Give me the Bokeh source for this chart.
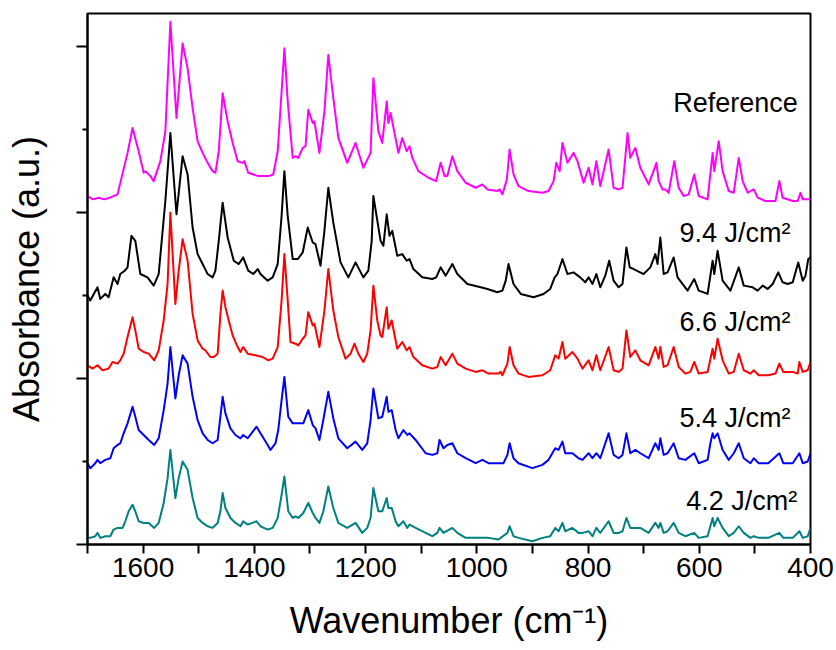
from bokeh.plotting import figure
from bokeh.models import Range1d, FixedTicker, Label
from bokeh.embed import file_html
from bokeh.resources import INLINE

# ---------------- data ----------------
ref_wn = [1700, 1690, 1680, 1670, 1660, 1646, 1628, 1619, 1608, 1599, 1596, 1587, 1581, 1569, 1560,
          1551, 1540, 1529, 1520, 1511, 1502, 1493, 1484, 1475, 1470, 1464, 1457, 1448, 1439, 1430,
          1421, 1418, 1411, 1393, 1375, 1366, 1358, 1351, 1346, 1340, 1331, 1326, 1321, 1313, 1308,
          1303, 1295, 1292, 1283, 1274, 1267, 1258, 1249, 1233, 1218, 1204, 1191, 1186, 1177, 1170,
          1162, 1159, 1155, 1141, 1134, 1126, 1121, 1116, 1105, 1087, 1073, 1065, 1058, 1053, 1044,
          1035, 1020, 1002, 990, 981, 963, 959, 954, 946, 941, 934, 925, 907, 882, 871,
          862, 857, 851, 846, 837, 826, 819, 808, 799, 792, 785, 778, 763, 754, 745,
          738, 729, 724, 715, 706, 691, 677, 673, 666, 661, 655, 645, 637, 628, 619,
          609, 601, 585, 576, 573, 565, 558, 547, 538, 529, 522, 513, 502, 495, 481,
          463, 456, 450, 432, 423, 418, 414, 400]
ref_abs = [2.10, 2.08, 2.09, 2.08, 2.09, 2.11, 2.36, 2.51, 2.37, 2.24, 2.25, 2.22, 2.19, 2.31, 2.49,
           3.15, 2.57, 3.02, 2.87, 2.63, 2.43, 2.36, 2.30, 2.25, 2.24, 2.37, 2.72, 2.55, 2.42, 2.31,
           2.30, 2.31, 2.24, 2.22, 2.22, 2.23, 2.37, 2.73, 2.99, 2.67, 2.33, 2.34, 2.33, 2.39, 2.40,
           2.62, 2.54, 2.55, 2.36, 2.61, 2.95, 2.69, 2.45, 2.30, 2.42, 2.27, 2.36, 2.81, 2.49, 2.42,
           2.67, 2.54, 2.60, 2.36, 2.45, 2.37, 2.40, 2.33, 2.25, 2.21, 2.19, 2.30, 2.22, 2.22, 2.34,
           2.25, 2.18, 2.15, 2.17, 2.14, 2.13, 2.14, 2.11, 2.20, 2.38, 2.23, 2.16, 2.13, 2.12, 2.13,
           2.19, 2.30, 2.25, 2.42, 2.30, 2.36, 2.31, 2.18, 2.27, 2.17, 2.31, 2.16, 2.38, 2.15, 2.14,
           2.15, 2.48, 2.33, 2.39, 2.27, 2.17, 2.30, 2.19, 2.14, 2.14, 2.12, 2.31, 2.15, 2.10, 2.11,
           2.23, 2.10, 2.08, 2.36, 2.25, 2.43, 2.25, 2.13, 2.12, 2.33, 2.19, 2.12, 2.14, 2.09, 2.07,
           2.07, 2.19, 2.09, 2.07, 2.07, 2.12, 2.08, 2.08]

f94_wn = [1700, 1695, 1682, 1677, 1668, 1662, 1653, 1646, 1641, 1633, 1628, 1621, 1614, 1605, 1592,
          1581, 1572, 1560, 1551, 1540, 1529, 1520, 1511, 1502, 1493, 1490, 1484, 1475, 1470, 1464,
          1457, 1448, 1437, 1428, 1420, 1411, 1402, 1394, 1389, 1376, 1367, 1358, 1351, 1346, 1340,
          1331, 1322, 1313, 1304, 1295, 1290, 1281, 1274, 1267, 1258, 1245, 1231, 1218, 1204, 1195,
          1189, 1186, 1173, 1168, 1162, 1157, 1152, 1143, 1134, 1126, 1121, 1114, 1098, 1080, 1073,
          1065, 1056, 1044, 1035, 1017, 993, 981, 963, 954, 948, 943, 934, 921, 898, 880,
          868, 860, 855, 846, 837, 826, 814, 805, 799, 792, 785, 778, 769, 762, 754,
          745, 738, 731, 725, 718, 700, 688, 679, 675, 670, 664, 657, 646, 639, 621,
          609, 601, 585, 576, 573, 567, 558, 544, 529, 520, 504, 495, 486, 477, 468,
          458, 450, 441, 432, 422, 414, 409, 404, 400]
f94_abs = [1.50, 1.47, 1.55, 1.48, 1.51, 1.49, 1.61, 1.57, 1.63, 1.65, 1.67, 1.86, 1.83, 1.63, 1.61,
           1.56, 1.63, 2.07, 2.48, 1.99, 2.34, 2.23, 1.91, 1.75, 1.69, 1.67, 1.63, 1.61, 1.65, 1.83,
           2.06, 1.85, 1.71, 1.69, 1.73, 1.65, 1.63, 1.66, 1.63, 1.59, 1.61, 1.69, 1.98, 2.25, 1.98,
           1.72, 1.72, 1.76, 1.91, 1.82, 1.81, 1.68, 1.89, 2.15, 1.94, 1.70, 1.61, 1.70, 1.61, 1.65,
           1.83, 2.10, 1.83, 1.80, 1.99, 1.86, 1.89, 1.74, 1.75, 1.71, 1.72, 1.66, 1.61, 1.60, 1.61,
           1.67, 1.62, 1.69, 1.63, 1.57, 1.55, 1.54, 1.52, 1.53, 1.59, 1.69, 1.57, 1.51, 1.49, 1.51,
           1.54, 1.61, 1.63, 1.72, 1.63, 1.64, 1.61, 1.58, 1.61, 1.57, 1.63, 1.55, 1.62, 1.71, 1.59,
           1.55, 1.57, 1.79, 1.67, 1.66, 1.63, 1.67, 1.75, 1.69, 1.85, 1.63, 1.64, 1.73, 1.61, 1.53,
           1.60, 1.53, 1.51, 1.71, 1.63, 1.77, 1.59, 1.53, 1.67, 1.56, 1.55, 1.53, 1.56, 1.54, 1.57,
           1.64, 1.58, 1.57, 1.58, 1.70, 1.59, 1.62, 1.72, 1.73]

f66_wn = [1700, 1691, 1682, 1673, 1662, 1655, 1646, 1641, 1635, 1628, 1619, 1614, 1608, 1599, 1590,
          1580, 1572, 1563, 1556, 1551, 1542, 1536, 1529, 1520, 1511, 1502, 1493, 1488, 1479, 1473,
          1466, 1461, 1457, 1452, 1446, 1439, 1430, 1425, 1420, 1412, 1398, 1385, 1375, 1367, 1358,
          1351, 1346, 1340, 1335, 1326, 1321, 1313, 1308, 1303, 1295, 1292, 1283, 1274, 1267, 1258,
          1249, 1236, 1227, 1220, 1213, 1204, 1197, 1191, 1186, 1179, 1173, 1170, 1162, 1159, 1153,
          1143, 1134, 1126, 1121, 1114, 1098, 1080, 1071, 1065, 1056, 1044, 1035, 1020, 1002, 990,
          979, 961, 957, 954, 945, 941, 934, 925, 907, 882, 868, 859, 853, 846, 841,
          828, 819, 810, 799, 792, 785, 778, 763, 754, 745, 738, 731, 724, 715, 706,
          691, 679, 673, 670, 664, 657, 646, 637, 625, 616, 609, 601, 585, 576, 573,
          567, 558, 547, 538, 529, 520, 508, 502, 493, 476, 463, 456, 449, 432, 423,
          420, 414, 405, 400]
f66_abs = [1.08, 1.06, 1.08, 1.05, 1.06, 1.10, 1.09, 1.11, 1.15, 1.25, 1.37, 1.29, 1.18, 1.16, 1.15,
           1.11, 1.17, 1.35, 1.57, 2.00, 1.45, 1.65, 1.84, 1.71, 1.39, 1.23, 1.18, 1.17, 1.13, 1.13,
           1.15, 1.39, 1.53, 1.43, 1.35, 1.26, 1.19, 1.16, 1.19, 1.15, 1.14, 1.13, 1.11, 1.12, 1.19,
           1.47, 1.75, 1.47, 1.22, 1.21, 1.20, 1.24, 1.26, 1.40, 1.32, 1.33, 1.19, 1.41, 1.66, 1.41,
           1.25, 1.12, 1.15, 1.21, 1.15, 1.10, 1.15, 1.29, 1.56, 1.35, 1.26, 1.25, 1.43, 1.30, 1.35,
           1.18, 1.22, 1.17, 1.19, 1.13, 1.08, 1.06, 1.07, 1.13, 1.08, 1.15, 1.09, 1.06, 1.04, 1.05,
           1.03, 1.03, 1.04, 1.02, 1.09, 1.19, 1.08, 1.03, 1.01, 1.02, 1.05, 1.14, 1.12, 1.22, 1.12,
           1.16, 1.12, 1.06, 1.11, 1.05, 1.14, 1.05, 1.19, 1.05, 1.04, 1.06, 1.29, 1.13, 1.17, 1.11,
           1.08, 1.19, 1.12, 1.19, 1.07, 1.08, 1.19, 1.07, 1.03, 1.04, 1.10, 1.03, 1.04, 1.18, 1.12,
           1.24, 1.11, 1.03, 1.04, 1.15, 1.05, 1.03, 1.05, 1.02, 1.02, 1.03, 1.09, 1.04, 1.04, 1.03,
           1.10, 1.04, 1.05, 1.10]

f54_wn = [1700, 1695, 1686, 1682, 1677, 1668, 1659, 1653, 1646, 1641, 1635, 1628, 1619, 1614, 1608,
          1599, 1590, 1580, 1572, 1563, 1556, 1551, 1542, 1536, 1529, 1520, 1511, 1502, 1493, 1484,
          1475, 1466, 1461, 1457, 1452, 1443, 1434, 1425, 1420, 1412, 1396, 1389, 1376, 1371, 1362,
          1357, 1351, 1346, 1339, 1331, 1326, 1321, 1312, 1303, 1295, 1290, 1283, 1276, 1267, 1258,
          1249, 1233, 1218, 1206, 1197, 1191, 1186, 1177, 1170, 1162, 1159, 1153, 1146, 1141, 1132,
          1125, 1121, 1110, 1092, 1080, 1071, 1067, 1060, 1053, 1044, 1035, 1020, 1002, 990, 979,
          961, 957, 952, 945, 941, 934, 925, 900, 882, 871, 859, 853, 846, 841, 828,
          817, 810, 799, 792, 785, 778, 763, 754, 745, 738, 731, 724, 715, 706, 691,
          679, 673, 670, 664, 657, 646, 637, 625, 609, 601, 585, 580, 576, 573, 567,
          558, 547, 538, 529, 520, 508, 502, 493, 476, 456, 449, 432, 420, 414, 405,
          400]
f54_abs = [0.49, 0.46, 0.49, 0.51, 0.49, 0.51, 0.52, 0.58, 0.60, 0.61, 0.67, 0.73, 0.83, 0.77, 0.69,
           0.66, 0.63, 0.60, 0.64, 0.81, 0.97, 1.19, 0.88, 1.02, 1.14, 1.09, 0.89, 0.75, 0.67, 0.63,
           0.61, 0.63, 0.77, 0.89, 0.79, 0.70, 0.66, 0.64, 0.66, 0.64, 0.71, 0.67, 0.60, 0.57, 0.61,
           0.69, 0.87, 1.01, 0.77, 0.73, 0.73, 0.73, 0.73, 0.81, 0.72, 0.70, 0.63, 0.75, 0.92, 0.76,
           0.64, 0.58, 0.62, 0.57, 0.61, 0.75, 0.94, 0.76, 0.77, 0.89, 0.80, 0.81, 0.69, 0.64, 0.69,
           0.66, 0.67, 0.63, 0.55, 0.54, 0.55, 0.63, 0.58, 0.60, 0.61, 0.55, 0.52, 0.49, 0.51, 0.49,
           0.49, 0.49, 0.49, 0.54, 0.61, 0.52, 0.49, 0.46, 0.48, 0.51, 0.58, 0.57, 0.62, 0.55, 0.55,
           0.52, 0.51, 0.55, 0.52, 0.55, 0.52, 0.67, 0.54, 0.52, 0.54, 0.67, 0.55, 0.57, 0.55, 0.52,
           0.61, 0.57, 0.64, 0.54, 0.55, 0.61, 0.52, 0.51, 0.55, 0.49, 0.51, 0.61, 0.67, 0.64, 0.67,
           0.57, 0.51, 0.55, 0.61, 0.52, 0.49, 0.52, 0.49, 0.49, 0.55, 0.49, 0.49, 0.55, 0.49, 0.50,
           0.55]

f42_wn = [1700, 1695, 1686, 1682, 1677, 1668, 1659, 1653, 1646, 1637, 1632, 1626, 1619, 1614, 1608,
          1599, 1590, 1580, 1572, 1563, 1556, 1551, 1542, 1536, 1529, 1520, 1511, 1502, 1493, 1484,
          1475, 1466, 1461, 1457, 1452, 1443, 1434, 1425, 1420, 1412, 1396, 1389, 1376, 1367, 1358,
          1351, 1346, 1339, 1331, 1326, 1321, 1312, 1303, 1295, 1290, 1283, 1276, 1267, 1258, 1249,
          1233, 1218, 1206, 1197, 1191, 1186, 1177, 1170, 1162, 1159, 1153, 1146, 1141, 1132, 1125,
          1121, 1110, 1092, 1080, 1071, 1067, 1060, 1044, 1035, 1020, 1002, 990, 979, 961, 945,
          941, 934, 925, 900, 882, 868, 859, 853, 846, 841, 828, 817, 810, 799, 792,
          785, 778, 763, 754, 745, 738, 731, 724, 715, 706, 691, 679, 673, 670, 664,
          657, 646, 637, 625, 609, 601, 585, 576, 573, 567, 558, 547, 538, 529, 520,
          508, 502, 493, 476, 456, 449, 432, 420, 414, 405, 400]
f42_abs = [0.04, 0.04, 0.05, 0.07, 0.04, 0.05, 0.05, 0.09, 0.10, 0.10, 0.14, 0.20, 0.24, 0.20, 0.14,
           0.13, 0.13, 0.10, 0.13, 0.25, 0.40, 0.57, 0.28, 0.40, 0.50, 0.45, 0.28, 0.16, 0.13, 0.11,
           0.10, 0.13, 0.20, 0.31, 0.22, 0.16, 0.13, 0.11, 0.14, 0.12, 0.14, 0.11, 0.09, 0.10, 0.16,
           0.30, 0.41, 0.20, 0.16, 0.17, 0.16, 0.19, 0.25, 0.19, 0.16, 0.13, 0.20, 0.35, 0.22, 0.13,
           0.10, 0.13, 0.07, 0.10, 0.16, 0.34, 0.20, 0.20, 0.28, 0.22, 0.22, 0.14, 0.11, 0.14, 0.10,
           0.12, 0.10, 0.07, 0.05, 0.07, 0.10, 0.07, 0.10, 0.07, 0.04, 0.04, 0.04, 0.04, 0.03, 0.07,
           0.11, 0.05, 0.04, 0.02, 0.04, 0.05, 0.10, 0.08, 0.13, 0.08, 0.10, 0.07, 0.07, 0.08, 0.05,
           0.10, 0.07, 0.14, 0.07, 0.07, 0.08, 0.16, 0.10, 0.10, 0.10, 0.07, 0.13, 0.10, 0.13, 0.07,
           0.08, 0.13, 0.07, 0.05, 0.07, 0.04, 0.05, 0.16, 0.11, 0.16, 0.10, 0.05, 0.07, 0.11, 0.07,
           0.04, 0.05, 0.04, 0.04, 0.07, 0.04, 0.04, 0.08, 0.04, 0.05, 0.10]

series_labels = ["Reference", "9.4 J/cm\u00b2", "6.6 J/cm\u00b2", "5.4 J/cm\u00b2", "4.2 J/cm\u00b2"]
x_title = "Wavenumber (cm\u207b\u00b9)"
y_title = "Absorbance (a.u.)"
x_major = [1600, 1400, 1200, 1000, 800, 600, 400]
x_minor = [1700, 1500, 1300, 1100, 900, 700, 500]
y_major = [0, 1, 2, 3]
y_minor = [0.5, 1.5, 2.5]

# ---------------- figure ----------------
FONT = "Liberation Sans"
p = figure(width=836, height=650, x_range=Range1d(1700, 400), y_range=Range1d(0, 3.2),
           output_backend="svg", toolbar_location=None,
           min_border_left=87, min_border_right=26, min_border_top=13, min_border_bottom=106)
p.background_fill_color = "white"
p.border_fill_color = "white"
p.outline_line_color = "black"
p.outline_line_width = 2
p.xgrid.grid_line_color = None
p.ygrid.grid_line_color = None

series = [(ref_wn, ref_abs, "#FF00FF"), (f94_wn, f94_abs, "#000000"), (f66_wn, f66_abs, "#FF0000"),
          (f54_wn, f54_abs, "#0000FF"), (f42_wn, f42_abs, "#008080")]
for xs, ys, c in series:
    p.line(xs, ys, line_color=c, line_width=2, line_join="round")

p.xaxis.ticker = FixedTicker(ticks=x_major, minor_ticks=x_minor)
p.yaxis.ticker = FixedTicker(ticks=y_major, minor_ticks=y_minor)
for ax in (p.xaxis[0], p.yaxis[0]):
    ax.axis_line_width = 2
    ax.major_tick_line_width = 2
    ax.minor_tick_line_width = 2
    ax.major_tick_in = 0
    ax.minor_tick_in = 0
    ax.axis_label_text_font = FONT
    ax.axis_label_text_font_style = "normal"
    ax.axis_label_text_font_size = "36px"
    ax.axis_label_text_color = "black"
    ax.major_label_text_font = FONT
    ax.major_label_text_color = "black"

p.xaxis.major_tick_out = 9
p.xaxis.minor_tick_out = 9
p.xaxis.major_label_text_font_size = "28px"
p.xaxis.major_label_standoff = 4
p.xaxis.axis_label = x_title
p.xaxis.axis_label_standoff = 20

p.yaxis.major_tick_out = 11
p.yaxis.minor_tick_out = 5
p.yaxis.major_label_text_font_size = "1px"
p.yaxis.major_label_standoff = 0
p.yaxis.major_label_overrides = {0: "", 1: "", 2: "", 3: ""}
p.yaxis.axis_label = y_title
p.yaxis.axis_label_standoff = 30

# right-side series labels (x in cm-1, y in absorbance units)
label_pos = [(423, 2.66), (436, 1.88), (436, 1.34), (436, 0.76), (424, 0.26)]
for txt, (lx, ly) in zip(series_labels, label_pos):
    p.add_layout(Label(x=lx, y=ly, text=txt, text_align="right", text_baseline="alphabetic",
                       text_font=FONT, text_font_size="27px", text_color="black"))

open("out.html", "w").write(file_html(p, INLINE))
